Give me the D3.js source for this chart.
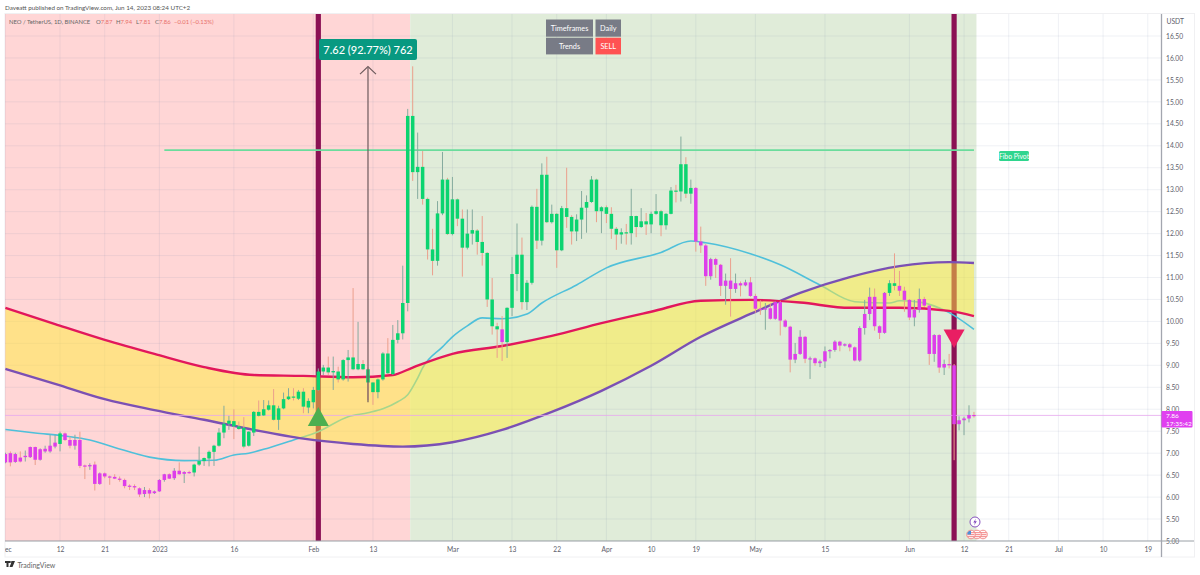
<!DOCTYPE html>
<html><head><meta charset="utf-8">
<style>
html,body{margin:0;padding:0;background:#fff;overflow:hidden}
svg{display:block}
text{font-family:Lato,"Noto Sans",sans-serif}
</style>
<script src="https://cdn.jsdelivr.net/npm/d3@7/dist/d3.min.js"></script>
</head><body><svg id="c" width="1200" height="575"></svg>
<script>
// Daily candles, day 0 = 1 Dec 2022
const opens=[6.79,7.00,6.80,6.90,6.91,6.91,7.14,6.85,7.04,7.04,7.15,7.21,7.45,7.30,7.17,7.30,6.72,6.70,6.74,6.30,6.54,6.47,6.46,6.42,6.39,6.26,6.25,6.20,6.07,6.16,6.09,6.13,6.39,6.52,6.43,6.60,6.53,6.57,6.56,6.74,6.82,6.88,7.03,7.17,7.47,7.67,7.73,7.61,7.58,7.17,7.47,7.94,7.86,7.99,8.09,7.76,8.02,8.23,8.29,8.24,8.40,8.04,8.16,8.44,8.86,8.95,8.84,8.86,8.68,9.12,9.18,8.91,9.03,8.91,8.61,8.39,8.68,9.27,8.80,9.58,9.73,10.42,14.68,13.40,13.52,12.79,11.64,11.38,12.46,13.23,11.99,12.78,12.34,11.68,12.00,12.07,11.81,11.56,10.50,9.89,9.82,9.53,10.31,11.08,11.52,10.44,10.88,12.61,11.84,13.34,12.26,12.45,11.62,12.58,12.38,12.05,12.32,12.59,12.72,13.23,12.51,12.60,12.45,12.11,11.98,12.03,12.01,12.40,12.15,12.28,12.21,12.45,12.51,12.19,12.45,12.98,12.96,13.58,12.91,13.04,11.82,11.73,11.03,11.42,11.29,10.81,10.93,10.74,10.87,10.82,10.89,10.58,10.29,10.27,10.30,10.06,10.44,10.02,9.88,9.13,9.26,9.65,9.15,9.16,9.05,9.09,9.32,9.35,9.54,9.45,9.48,9.41,9.11,9.85,10.17,10.56,9.89,9.74,10.65,10.87,10.81,10.70,10.49,10.09,10.26,10.51,10.36,9.26,9.69,8.95,9.03,9.00,7.66,7.75,7.79,7.87];
const highs=[7.01,7.04,7.01,7.04,7.06,7.15,7.15,7.11,7.17,7.42,7.42,7.49,7.47,7.38,7.42,7.49,6.74,6.77,6.81,6.56,6.56,6.49,6.52,6.47,6.42,6.29,6.29,6.22,6.23,6.20,6.15,6.41,6.53,6.54,6.66,6.79,6.59,6.60,6.76,7.15,6.90,7.06,7.19,7.57,8.08,7.85,8.00,7.72,7.82,7.50,7.96,8.20,8.21,8.20,8.46,8.08,8.38,8.48,8.48,8.44,8.48,8.25,8.51,8.93,9.01,9.20,9.20,8.97,9.14,9.35,10.76,9.99,9.12,8.95,8.62,8.70,9.30,9.62,9.92,10.03,11.27,14.84,15.81,14.30,13.88,12.82,12.11,12.74,13.86,13.27,13.29,12.80,12.55,12.55,12.55,12.10,12.40,11.58,10.99,9.97,10.12,10.32,11.47,12.23,11.91,10.94,12.64,13.02,13.60,13.75,12.66,12.47,12.63,13.50,12.42,12.44,12.97,12.87,13.31,13.25,12.62,12.64,12.60,12.15,12.12,12.22,13.02,12.41,12.58,12.47,12.50,12.90,12.54,12.47,13.06,13.11,14.21,13.74,13.23,13.06,12.16,11.76,11.45,11.45,11.31,11.09,11.44,11.09,10.91,10.95,11.01,10.63,10.48,10.42,10.42,10.46,10.47,10.05,9.90,9.51,9.80,9.67,9.20,9.18,9.13,9.43,9.37,9.57,9.56,9.50,9.51,9.43,9.89,10.49,10.77,10.75,9.91,10.67,10.94,11.55,11.15,10.79,10.51,10.49,10.75,10.56,10.38,9.71,9.71,9.13,9.26,9.03,7.84,7.83,8.09,7.94];
const lows=[6.77,6.70,6.78,6.79,6.81,6.89,6.73,6.83,7.01,7.01,7.11,7.04,7.28,7.11,7.08,6.66,6.41,6.62,6.15,6.28,6.43,6.28,6.41,6.35,6.20,6.16,6.16,6.00,6.00,5.97,6.07,6.12,6.35,6.41,6.39,6.51,6.32,6.53,6.47,6.71,6.71,6.70,6.71,7.15,7.34,7.53,7.32,7.53,7.11,7.15,7.39,7.83,7.85,7.97,7.74,7.53,8.00,8.21,8.20,8.21,7.91,7.91,8.02,8.42,8.78,8.78,8.44,8.61,8.65,8.63,8.89,8.89,8.89,8.21,8.10,8.25,8.65,8.80,8.78,9.50,9.59,10.23,13.20,12.79,12.66,11.41,11.05,11.27,12.42,11.97,11.96,12.17,11.02,11.64,11.75,11.52,11.27,10.33,9.70,9.17,9.10,9.17,10.12,10.69,10.27,10.26,10.84,11.65,11.73,12.24,12.23,11.22,11.60,12.13,11.75,11.83,11.88,12.02,12.70,12.26,12.01,12.24,11.88,11.63,11.77,11.75,11.75,11.92,12.13,11.97,12.01,12.43,11.94,12.09,12.44,12.71,12.73,12.81,12.68,11.59,11.56,10.81,10.95,10.99,10.58,10.38,10.11,10.65,10.57,10.80,10.56,10.20,10.15,9.81,10.04,10.04,9.68,9.86,8.84,9.05,9.24,9.05,8.69,8.99,8.96,8.94,9.16,9.31,9.32,9.43,9.32,9.09,9.08,9.70,10.03,9.79,9.60,9.72,10.58,10.71,10.58,10.22,10.03,9.89,10.20,10.33,9.01,9.08,8.83,8.78,8.93,6.84,7.52,7.41,7.70,7.81];
const closes=[6.98,6.79,6.98,6.81,6.94,7.14,6.85,7.09,7.10,7.17,7.24,7.45,7.30,7.17,7.30,6.71,6.70,6.73,6.30,6.54,6.47,6.45,6.42,6.40,6.25,6.24,6.22,6.06,6.16,6.08,6.13,6.39,6.52,6.42,6.60,6.52,6.57,6.55,6.74,6.82,6.89,7.03,7.17,7.47,7.67,7.74,7.61,7.55,7.15,7.49,7.94,7.85,8.00,8.09,7.76,8.02,8.23,8.29,8.27,8.40,8.06,8.19,8.44,8.86,8.95,8.84,8.87,8.68,9.12,9.18,8.91,9.03,8.91,8.61,8.39,8.68,9.27,8.82,9.58,9.73,10.42,14.68,13.40,13.52,12.79,11.64,11.38,12.46,13.23,11.99,12.78,12.34,11.68,12.00,12.08,11.81,11.56,10.50,9.89,9.82,9.53,10.31,11.08,11.52,10.44,10.88,12.61,11.84,13.34,12.26,12.45,11.62,12.58,12.38,12.05,12.32,12.59,12.72,13.23,12.51,12.60,12.45,12.11,11.98,12.03,12.01,12.40,12.15,12.28,12.21,12.45,12.51,12.19,12.45,12.98,12.96,13.58,12.91,13.04,11.82,11.73,11.03,11.42,11.29,10.81,10.93,10.74,10.87,10.82,10.89,10.58,10.29,10.27,10.30,10.06,10.44,10.02,9.88,9.13,9.26,9.65,9.15,9.16,9.05,9.09,9.32,9.35,9.54,9.45,9.48,9.41,9.11,9.85,10.17,10.56,9.89,9.74,10.65,10.87,10.81,10.70,10.49,10.09,10.26,10.51,10.36,9.26,9.69,8.95,9.03,9.00,7.66,7.75,7.79,7.87,7.86];
// Trend colouring of candle bodies (inclusive day ranges that are "buy")
const buyFrom=[11,38,101,178];
const buyTo=[11,99,138,179];
// Background zones (day edges) and signals
const zoneFrom=[-1.1,81.5];
const zoneTo=[81.5,195.5];
const signalDays=[63,191];
// Moving averages read at sample days
const redDays=[0,10,20,30,40,50,60,70,78,82,90,100,110,120,130,140,150,160,170,180,190,195];
const redVals=[10.31,9.94,9.58,9.26,8.96,8.78,8.76,8.73,8.78,8.95,9.26,9.44,9.67,9.96,10.22,10.47,10.49,10.43,10.31,10.31,10.24,10.12];
const purpleDays=[0,10,20,30,40,50,60,70,80,90,100,110,120,130,140,150,160,170,180,190,195];
const purpleVals=[8.92,8.58,8.23,7.98,7.76,7.53,7.33,7.21,7.15,7.25,7.53,7.94,8.42,8.99,9.65,10.17,10.65,11.01,11.26,11.35,11.33];
const blueDays=[0,6,12,17,22,29,36,42,46,49,53,58,63,69,73,76,79,81,83,84,88,90,93,96,100,105,108,115,121,132,138,141,150,156,164,171,178,180,184,190,195];
const blueVals=[7.54,7.46,7.39,7.30,7.13,6.91,6.83,6.84,6.96,7.00,7.12,7.30,7.49,7.83,7.92,8.01,8.17,8.33,8.71,8.94,9.42,9.65,9.90,10.08,10.06,10.17,10.42,10.83,11.22,11.57,11.83,11.79,11.54,11.29,10.83,10.45,10.42,10.47,10.44,10.20,9.82];
// Annotations
const fiboPrice=13.9, fiboFromDay=32, fiboToDay=195;
const measureDay=73, measureLow=8.16, measureDelta=7.62;
const lastPrice=7.86;
// Axes
const priceTicks=[5,5.5,6,6.5,7,7.5,8,8.5,9,9.5,10,10.5,11,11.5,12,12.5,13,13.5,14,14.5,15,15.5,16,16.5];
const dayTicks=[0,11,20,31,46,62,74,90,102,111,121,130,139,151,165,182,193,202,212,221,230];
const dayLabels=["Dec","12","21","2023","16","Feb","13","Mar","13","22","Apr","10","19","May","15","Jun","12","21","Jul","10","19"];
// Legend values
const legendLabels=["O7.87","H7.94","L7.81","C7.86","−0.01 (−0.13%)"];

const svg=d3.select("#c");
const L=5,R=1161.5,T=14,B=541;
const x=d3.scaleLinear().domain([0,195]).range([5.4,5.4+195*4.967]);
const y=d3.scaleLinear().domain([5,16.5]).range([541,36]);
const defs=svg.append("defs");
defs.append("clipPath").attr("id","plot").append("rect").attr("x",L).attr("y",T).attr("width",R-L).attr("height",B-T);
defs.append("clipPath").attr("id","axisclip").append("rect").attr("x",L).attr("y",B).attr("width",1190).attr("height",16);

// frame
svg.append("rect").attr("x",L).attr("y",13.5).attr("width",1189.5).attr("height",543.5).attr("fill","none").attr("stroke","#f0f0f2");

const plot=svg.append("g").attr("clip-path","url(#plot)");
const zoneColors=["#ffd6d6","#e0ecd9"];
plot.selectAll(".zone").data(zoneFrom).join("rect").attr("class","zone")
 .attr("x",(d)=>x(d)).attr("y",T).attr("height",B-T)
 .attr("width",(d,i)=>x(zoneTo[i])-x(d)).attr("fill",(d,i)=>zoneColors[i]);

// grid
plot.selectAll(".gh").data(priceTicks).join("line").attr("x1",L).attr("x2",R).attr("y1",d=>y(d)).attr("y2",d=>y(d))
 .attr("stroke","#8090b0").attr("stroke-opacity",.13);
plot.selectAll(".gv").data(dayTicks).join("line").attr("y1",T).attr("y2",B).attr("x1",d=>x(d)).attr("x2",d=>x(d))
 .attr("stroke","#8090b0").attr("stroke-opacity",.13);

// signal bars
plot.selectAll(".sig").data(signalDays).join("line").attr("x1",d=>x(d)).attr("x2",d=>x(d)).attr("y1",T).attr("y2",B)
 .attr("stroke","#8b1154").attr("stroke-width",5.2);

const ser=(days,vals)=>days.map((d,i)=>({d,v:vals[i]}));
const lineGen=d3.line().x(p=>x(p.d)).y(p=>y(p.v)).curve(d3.curveMonotoneX);

// blue line sits under the fill
plot.append("path").attr("d",lineGen(ser(blueDays,blueVals))).attr("fill","none").attr("stroke","#4fc0da").attr("stroke-width",1.6);

// fill between red and purple
const allDays=d3.range(0,196);
const redI=d3.scaleLinear().domain(redDays).range(redVals);
const purI=d3.scaleLinear().domain(purpleDays).range(purpleVals);
const area=d3.area().x(d=>x(d)).y0(d=>y(redI(d))).y1(d=>y(purI(d)));
plot.append("path").attr("d",area(allDays)).attr("fill","#ffeb3b").attr("fill-opacity",.5);

plot.append("path").attr("d",lineGen(ser(purpleDays,purpleVals))).attr("fill","none").attr("stroke","#7b50b4").attr("stroke-width",2.4);
plot.append("path").attr("d",lineGen(ser(redDays,redVals))).attr("fill","none").attr("stroke","#e2175c").attr("stroke-width",2.4);

// last price line
plot.append("line").attr("x1",L).attr("x2",R).attr("y1",y(lastPrice)).attr("y2",y(lastPrice))
 .attr("stroke","#e6a8ee").attr("stroke-width",.8);

// fibo pivot
plot.append("line").attr("x1",x(fiboFromDay)).attr("x2",x(fiboToDay)).attr("y1",y(fiboPrice)).attr("y2",y(fiboPrice))
 .attr("stroke","#6bdc9c").attr("stroke-width",1.6);

// candles
const isBuy=i=>buyFrom.some((f,k)=>i>=f&&i<=buyTo[k]);
const candles=plot.append("g");
candles.selectAll(".w").data(allDays).join("line")
 .attr("x1",i=>x(i)).attr("x2",i=>x(i)).attr("y1",i=>y(highs[i])).attr("y2",i=>y(lows[i]))
 .attr("stroke",i=>closes[i]>=opens[i]?"#85ab9e":"#eb9f8c").attr("stroke-width",1);
candles.selectAll(".b").data(allDays).join("rect")
 .attr("x",i=>x(i)-1.75).attr("width",3.5)
 .attr("y",i=>y(Math.max(opens[i],closes[i])))
 .attr("height",i=>Math.max(1.2,Math.abs(y(opens[i])-y(closes[i]))))
 .attr("fill",i=>isBuy(i)?"#0bd470":"#dd3eea");

// signal triangles
plot.append("path").attr("fill","#4caf50")
 .attr("d",`M${x(signalDays[0])-10.5},426 L${x(signalDays[0])},407 L${x(signalDays[0])+10.5},426 Z`);
plot.append("path").attr("fill","#e91e63")
 .attr("d",`M${x(signalDays[1])-10.5},329.5 L${x(signalDays[1])},348 L${x(signalDays[1])+10.5},329.5 Z`);

// measure arrow
const mx=x(measureDay), my0=y(measureLow), my1=y(measureLow+measureDelta);
plot.append("line").attr("x1",mx).attr("x2",mx).attr("y1",my0).attr("y2",my1).attr("stroke","#6d5a5c").attr("stroke-width",1.2);
plot.append("path").attr("d",`M${mx-8},${my1+6.5} L${mx},${my1-1} L${mx+8},${my1+6.5}`).attr("fill","none").attr("stroke","#6d5a5c").attr("stroke-width",1.2);
svg.append("rect").attr("x",319).attr("y",39).attr("width",98).attr("height",21).attr("rx",2).attr("fill","#089981");
svg.append("text").attr("x",368).attr("y",53.5).attr("text-anchor","middle").attr("fill","#fff").attr("font-size",11).attr("font-weight",500).text(`${measureDelta.toFixed(2)} (92.77%) 762`);

// fibo label
svg.append("rect").attr("x",999).attr("y",151).attr("width",30).attr("height",10).attr("rx",1.5).attr("fill","#2fd58e");
svg.append("text").attr("x",1014).attr("y",158.5).attr("text-anchor","middle").attr("fill","#fff").attr("font-size",6.8).text("Fibo Pivot");

// table
const cellX=[546,595.5], cellW=[47,25.5], cellY=[19.5,37.7], cellH=[17.2,16.7];
const cellText=[["Timeframes","Daily"],["Trends","SELL"]];
cellText.forEach((row,r)=>row.forEach((t,c)=>{
 svg.append("rect").attr("x",cellX[c]).attr("y",cellY[r]).attr("width",cellW[c]).attr("height",cellH[r]).attr("fill",t==="SELL"?"#ff5252":"#787b86");
 svg.append("text").attr("x",cellX[c]+cellW[c]/2).attr("y",cellY[r]+cellH[r]/2+2.6).attr("text-anchor","middle").attr("fill","#fff").attr("font-size",7.3).text(t);
}));

// axes
const ay=svg.append("g").attr("transform",`translate(${R},0)`).call(d3.axisRight(y).tickValues(priceTicks).tickFormat(d3.format(".2f")).tickSize(0).tickPadding(4.5));
ay.select(".domain").remove();
ay.selectAll("text").attr("fill","#5d606b").attr("font-size",6.7).style("font-family",'Lato,sans-serif');
const ax=svg.append("g").attr("clip-path","url(#axisclip)").append("g").attr("transform",`translate(0,${B})`)
 .call(d3.axisBottom(x).tickValues(dayTicks).tickFormat((d,i)=>dayLabels[i]).tickSize(0).tickPadding(6.5));
ax.select(".domain").remove();
ax.selectAll("text").attr("fill","#5d606b").attr("font-size",6.7).style("font-family",'Lato,sans-serif');
svg.append("line").attr("x1",L).attr("x2",1194).attr("y1",B).attr("y2",B).attr("stroke","#9aa0a6").attr("stroke-width",1);
svg.append("line").attr("x1",R).attr("x2",R).attr("y1",T).attr("y2",557).attr("stroke","#a3a6af").attr("stroke-width",1.3);
svg.append("text").attr("x",1166.5).attr("y",23.5).attr("fill","#5d606b").attr("font-size",6.7).text("USDT");

// price tag
svg.append("rect").attr("x",R).attr("y",411).attr("width",31).attr("height",16.5).attr("rx",1).attr("fill","#e040f0");
svg.append("text").attr("x",1166).attr("y",418.3).attr("fill","#fff").attr("font-size",6.5).text(lastPrice.toFixed(2));
svg.append("text").attr("x",1166).attr("y",426).attr("fill","#fff").attr("font-size",6.5).text("17:35:42");

// event icons
const icons=svg.append("g");
icons.append("circle").attr("cx",975).attr("cy",522).attr("r",5).attr("fill","#fff").attr("stroke","#7b3fb8").attr("stroke-width",.9);
icons.append("path").attr("d","M976,518.5 L973.3,522.6 L975,522.6 L974,525.5 L976.8,521.3 L975,521.3 Z").attr("fill","#7b3fb8");
const flagX=[983,977,971];
flagX.forEach((fx,i)=>{
 icons.append("circle").attr("cx",fx).attr("cy",534.5).attr("r",4.3).attr("fill","#fff").attr("stroke","#f08080").attr("stroke-width",.9);
 [532.7,534.7,536.7].forEach(sy=>icons.append("line").attr("x1",fx-3.5).attr("x2",fx+3.5).attr("y1",sy).attr("y2",sy).attr("stroke","#f07070").attr("stroke-width",.9));
 if(i===2) icons.append("path").attr("d",`M${fx-3.8},534.5 A3.8,3.8 0 0 1 ${fx},530.7 L${fx},534.5 Z`).attr("fill","#4a90d9");
});

// header, legend, footer
svg.append("text").attr("x",5).attr("y",10).attr("fill","#555").attr("font-size",6.3).text("Daveatt published on TradingView.com, Jun 14, 2023 08:24 UTC+2");
svg.append("text").attr("x",9).attr("y",24).attr("font-size",5.9).attr("fill","#666").text("NEO / TetherUS, 1D, BINANCE");
const legendX=[96,116,136,155,174];
legendLabels.forEach((t,i)=>{
 const g=svg.append("text").attr("x",legendX[i]).attr("y",24).attr("font-size",5.9);
 if(i<4){ g.append("tspan").attr("fill","#666").text(t[0]); g.append("tspan").attr("fill","#e8706a").text(t.slice(1)); }
 else g.attr("fill","#e8706a").text(t);
});
svg.append("path").attr("d","M5,561 h5 v2 h-1.5 v4 h-2 v-4 h-1.5 Z M9.5,567 L12,561 h3 L12.5,567 Z").attr("fill","#333");
svg.append("circle").attr("cx",11).attr("cy",562).attr("r",.9).attr("fill","#333");
svg.append("text").attr("x",17.5).attr("y",568).attr("fill","#666").attr("font-size",7).text("TradingView");
</script></body></html>
